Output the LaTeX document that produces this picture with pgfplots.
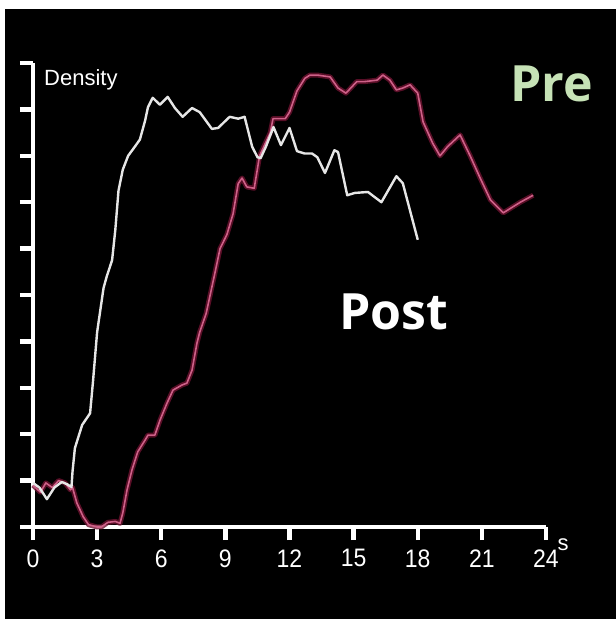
\documentclass[border=0pt]{standalone}
\usepackage{pgfplots}
\pgfplotsset{compat=1.18}
\usepackage{fontspec}
\setmainfont{Liberation Sans}
\newfontfamily\osans{Open Sans}

\definecolor{curvewhite}{RGB}{230,230,230}
\definecolor{curvepink}{RGB}{206,96,136}
\definecolor{pinkglow}{RGB}{110,18,48}
\definecolor{prelabel}{RGB}{198,226,182}

\pgfplotstableread{
t v
0 0.95
0.3 0.85
0.65 0.6
1.0 0.85
1.35 0.97
1.6 0.92
1.8 0.86
1.85 1.2
1.96 1.7
2.3 2.2
2.67 2.45
2.8 3.1
3.0 4.2
3.3 5.15
3.45 5.4
3.7 5.75
3.85 6.4
4.0 7.25
4.2 7.7
4.45 8.0
4.77 8.2
5.0 8.35
5.24 8.75
5.38 9.05
5.6 9.25
5.94 9.1
6.3 9.27
6.64 9.03
7.0 8.84
7.44 9.03
7.8 8.94
8.37 8.58
8.66 8.6
9.2 8.84
9.6 8.8
9.9 8.84
10.25 8.2
10.5 7.97
10.65 7.95
10.9 8.2
11.25 8.62
11.6 8.23
12.0 8.6
12.35 8.1
12.7 8.05
13.05 8.05
13.3 7.97
13.66 7.63
14.1 8.12
14.27 8.08
14.7 7.15
15.06 7.2
15.67 7.22
16.3 7.0
17.0 7.56
17.3 7.41
18.0 6.19
}\postdata

\pgfplotstableread{
t v
0 0.9
0.35 0.75
0.6 0.95
0.9 0.85
1.2 1.0
1.5 0.95
1.75 0.8
1.85 0.85
2.05 0.52
2.35 0.22
2.6 0.05
3.0 0
3.2 0
3.5 0.1
3.85 0.12
4.07 0.08
4.2 0.3
4.4 0.8
4.63 1.23
4.9 1.62
5.24 1.87
5.38 1.98
5.7 1.98
5.94 2.3
6.27 2.67
6.55 2.95
6.97 3.06
7.2 3.1
7.44 3.38
7.67 3.96
7.8 4.2
8.1 4.6
8.5 5.45
8.75 6.0
9.07 6.3
9.36 6.75
9.6 7.4
9.78 7.52
10.0 7.33
10.35 7.3
10.6 8.0
11.1 8.5
11.23 8.8
11.8 8.8
12.0 8.94
12.35 9.4
12.72 9.67
12.96 9.74
13.3 9.74
13.9 9.7
14.27 9.46
14.64 9.35
15.15 9.6
15.53 9.6
16.1 9.63
16.37 9.74
16.7 9.63
17.0 9.42
17.3 9.46
17.64 9.53
18.0 9.35
18.25 8.73
18.7 8.27
19.04 8.0
19.4 8.2
19.98 8.45
20.45 8.0
20.9 7.54
21.4 7.05
22.0 6.77
22.45 6.9
22.8 7.0
23.4 7.15
}\predata

\begin{document}
\begin{tikzpicture}
  % page frame: thin white strip on top and left, black field
  \path[use as bounding box] (0,0) rectangle (616pt,619pt);
  \fill[white] (0,0) rectangle (616pt,619pt);
  \fill[black] (5pt,0) rectangle (616pt,610pt);

  \begin{axis}[
    at={(33pt,92pt)}, anchor=south west,
    scale only axis, width=513pt, height=464pt,
    xmin=0, xmax=24, ymin=0, ymax=10,
    axis x line*=bottom, axis y line*=left,
    axis line style={white, line width=4.4pt},
    every outer x axis line/.append style={white, line width=4.4pt},
    every outer y axis line/.append style={white, line width=4.4pt},
    xtick={0,3,...,24}, ytick={0,1,...,10},
    yticklabels={},
    tick align=outside, major tick length=13pt,
    every tick/.style={white, line width=4.4pt},
    xticklabel style={white, font=\fontsize{23}{25}\selectfont, yscale=1.1, yshift=-5pt},
    /pgf/number format/assume math mode=true,
    clip=false,
  ]
    \addplot[pinkglow, line width=5pt, opacity=0.8, line join=round] table[x=t, y=v] {\predata};
    \addplot[curvepink, line width=1.6pt, line join=round] table[x=t, y=v] {\predata};
    \addplot[curvewhite, line width=2.4pt, line join=round] table[x=t, y=v] {\postdata};
    \node[white, font=\fontsize{22}{24}\selectfont, anchor=center]
      at ([xshift=17pt, yshift=-18pt]axis cs:24,0) {s};
  \end{axis}

  \node[white, anchor=base west, inner sep=0pt, font=\fontsize{22}{24}\selectfont]
    at (44pt,533pt) {Density};
  \node[prelabel, anchor=base west, inner sep=0pt, font=\osans\bfseries\fontsize{50}{56}\selectfont]
    at (510pt,517pt) {Pre};
  \node[white, anchor=base west, inner sep=0pt, font=\osans\bfseries\fontsize{50}{56}\selectfont]
    at (339pt,289pt) {Post};
\end{tikzpicture}
\end{document}
